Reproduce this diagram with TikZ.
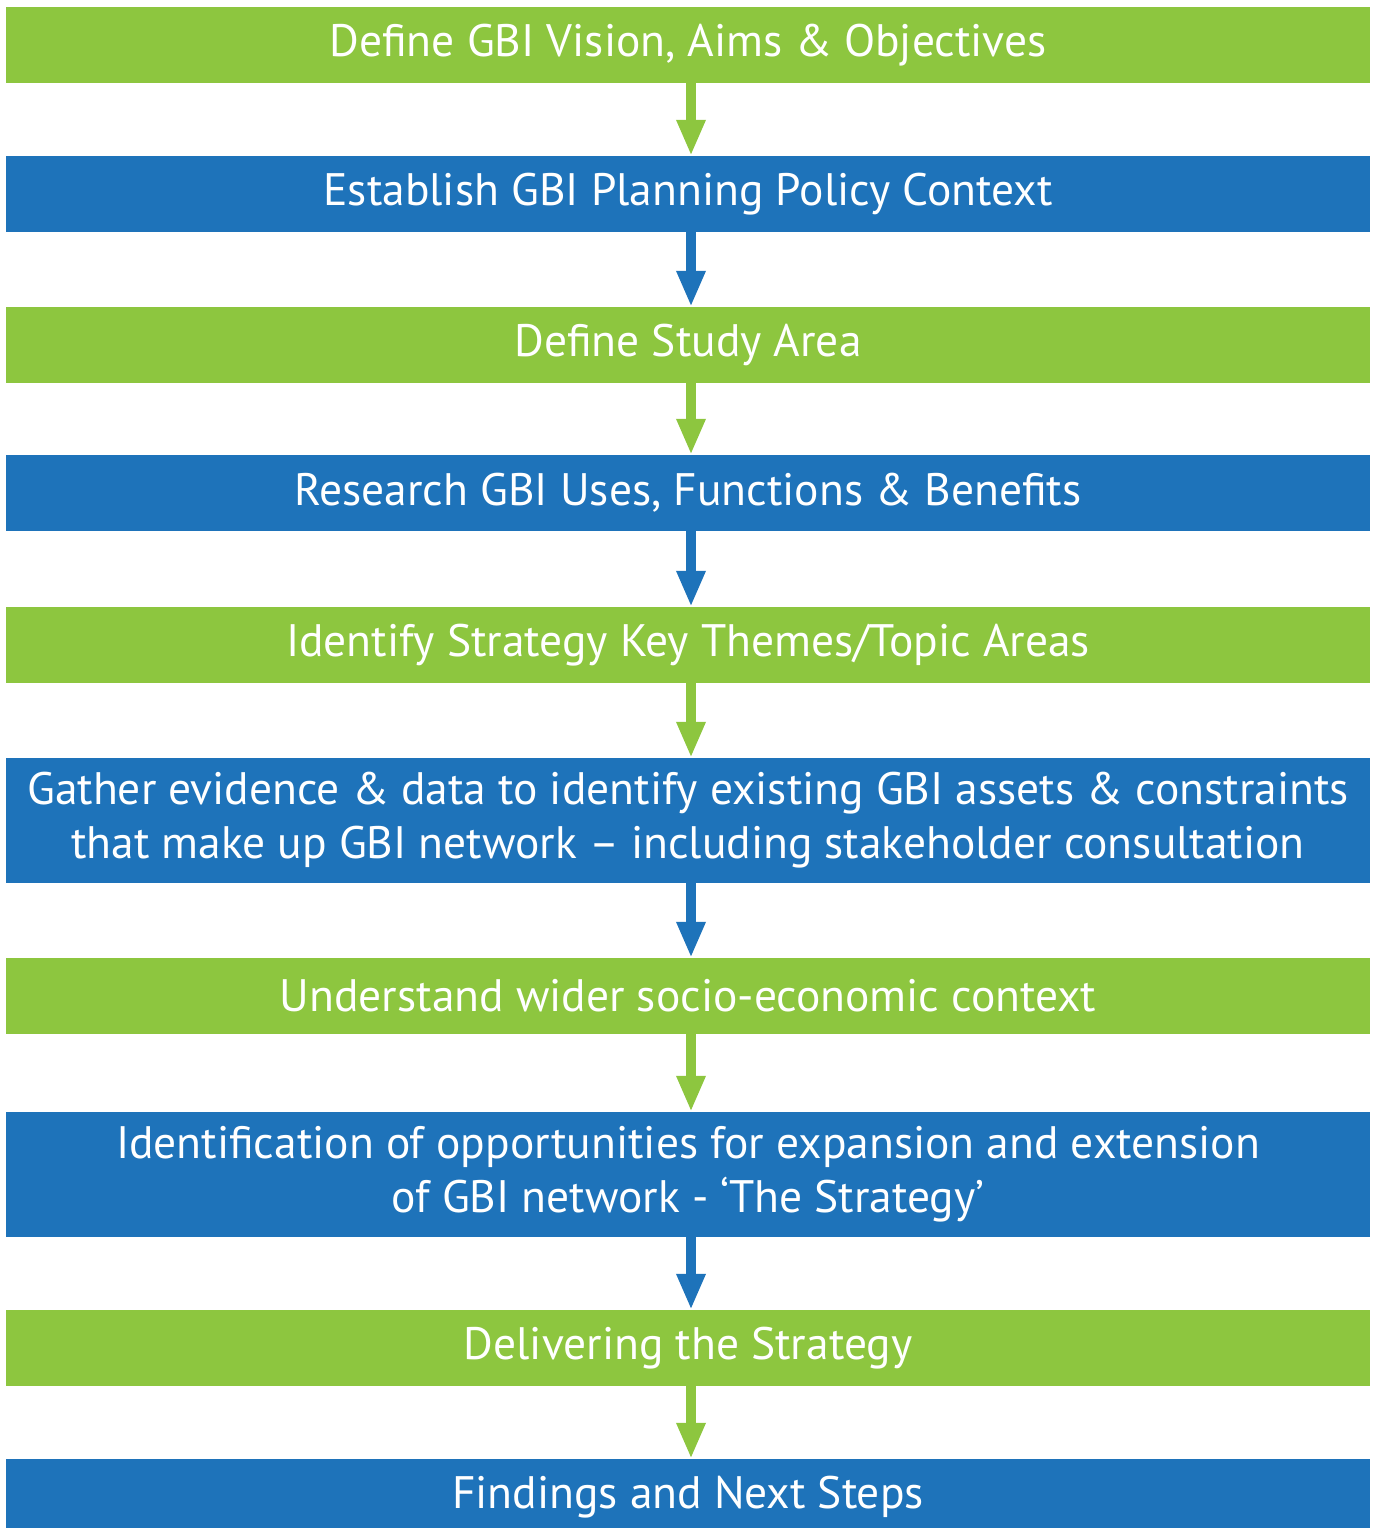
\documentclass[tikz,border=0pt]{standalone}
\usepackage{fontspec}
\setmainfont{PT Sans}
\usetikzlibrary{arrows.meta}
\definecolor{gbigreen}{RGB}{141,198,63}
\definecolor{gbiblue}{RGB}{30,115,186}
\tikzset{
  stepbox/.style={minimum width=1364pt, minimum height=76pt, inner sep=0pt, text=white,
    font=\fontsize{45.5}{54}\selectfont, align=center},
  gbox/.style={stepbox, fill=gbigreen},
  bbox/.style={stepbox, fill=gbiblue},
  tallbox/.style={minimum height=125pt},
  flow/.style={line width=10pt, -{Triangle[width=27pt,length=36pt]}}
}
\begin{document}
\begin{tikzpicture}[x=1pt,y=-1pt]
\useasboundingbox (0,0) rectangle (1377,1528);
\node[gbox] (n1) at (688,45) {Define GBI Vision, Aims \& Objectives};
\node[bbox] (n2) at (688,194) {Establish GBI Planning Policy Context};
\node[gbox] (n3) at (688,345) {Define Study Area};
\node[bbox] (n4) at (688,493) {Research GBI Uses, Functions \& Benefits};
\node[gbox] (n5) at (688,645) {Identify Strategy Key Themes/Topic Areas};
\node[bbox,tallbox] (n6) at (688,820.5) {Gather evidence \& data to identify existing GBI assets \& constraints\\that make up GBI network -- including stakeholder consultation};
\node[gbox] (n7) at (688,996) {Understand wider socio-economic context};
\node[bbox,tallbox] (n8) at (688,1174.5) {Identification of opportunities for expansion and extension\\of GBI network - ‘The Strategy’};
\node[gbox] (n9) at (688,1348) {Delivering the Strategy};
\node[bbox] (n10) at (688,1497) {Findings and Next Steps};
\draw[flow,gbigreen] (n1.south -| 691,0) -- (n2.north -| 691,0);
\draw[flow,gbiblue] (n2.south -| 691,0) -- (n3.north -| 691,0);
\draw[flow,gbigreen] (n3.south -| 691,0) -- (n4.north -| 691,0);
\draw[flow,gbiblue] (n4.south -| 691,0) -- (n5.north -| 691,0);
\draw[flow,gbigreen] (n5.south -| 691,0) -- (n6.north -| 691,0);
\draw[flow,gbiblue] (n6.south -| 691,0) -- (n7.north -| 691,0);
\draw[flow,gbigreen] (n7.south -| 691,0) -- (n8.north -| 691,0);
\draw[flow,gbiblue] (n8.south -| 691,0) -- (n9.north -| 691,0);
\draw[flow,gbigreen] (n9.south -| 691,0) -- (n10.north -| 691,0);
\end{tikzpicture}
\end{document}
